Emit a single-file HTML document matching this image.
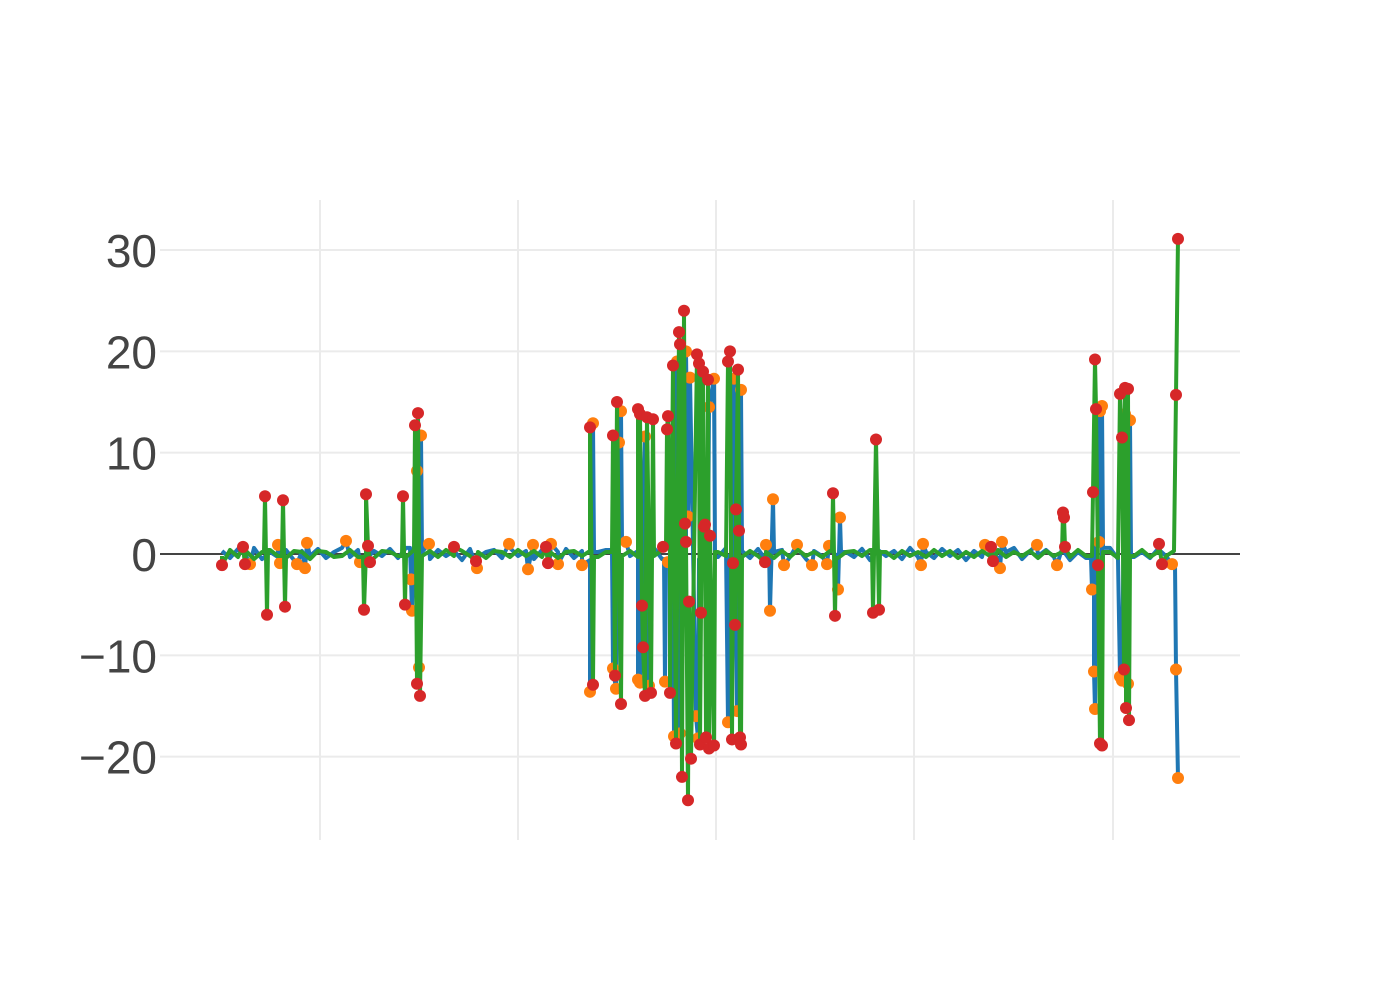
<!DOCTYPE html>
<html><head><meta charset="utf-8"><style>
html,body{margin:0;padding:0;background:#fff;width:1400px;height:1000px;overflow:hidden}
svg text{font-family:"Liberation Sans",sans-serif}
</style></head><body>
<svg id="chart" width="1400" height="1000" xmlns="http://www.w3.org/2000/svg">
<g id="grid"></g>
<g id="yticks"></g>
<g id="series"></g>
</svg>
<script>
const xGridTicks=[160,358,556,754,953];
const yTickVals=[-20,-10,0,10,20,30];
const yTickLabels=["\u221220","\u221210","0","10","20","30"];
// baseline noise (every 8 units starting at 62)
const blueBase=[0.3,-0.4,0.5,-0.2,0.6,-0.5,0.2,-0.3,0.4,-0.6,0.3,-0.2,0.5,-0.4,0.2,0.6,-0.3,0.4,-0.5,0.3,-0.2,0.5,-0.4,0.6,-0.3,0.2,-0.5,0.4,-0.2,0.3,-0.6,0.5,-0.3,0.2,0.4,-0.4,0.6,-0.2,0.3,-0.5,0.4,-0.3,0.2,0.5,-0.4,0.3,-0.6,0.2,0.4,-0.3,0.5,-0.2,0.3,-0.4,0.6,-0.5,0.2,-0.3,0.4,-0.2,
-0.5,0.4,-0.3,0.6,-0.2,0.3,-0.4,0.5,-0.6,0.2,0.4,-0.3,0.5,-0.5,0.3,-0.2,0.6,-0.4,0.2,-0.3,0.5,-0.6,0.4,-0.2,0.3,-0.5,0.6,-0.3,0.2,-0.4,0.5,-0.2,0.4,-0.6,0.3,-0.3,0.5,-0.4,0.2,0.6,-0.5,0.3,-0.2,0.4,-0.3,0.5,-0.6,0.2,-0.4,0.3,-0.2,0.6,-0.5,0.4,-0.3,0.2,-0.4,0.5,-0.2,0.3];
const greenBase=[-0.2,0.4,-0.3,0.3,-0.5,0.2,0.4,-0.2,-0.4,0.3,0.2,-0.5,0.3,0.2,-0.3,-0.2,0.4,-0.3,0.2,-0.4,0.3,0.2,-0.2,-0.3,0.4,-0.2,0.3,-0.3,0.4,-0.2,0.3,-0.2,0.2,-0.4,0.3,0.2,-0.3,0.4,-0.2,0.3,-0.3,0.2,-0.4,0.2,0.3,-0.2,0.3,-0.3,0.2,0.4,-0.2,0.3,-0.3,0.2,-0.2,0.4,-0.3,0.2,-0.2,0.3,
0.3,-0.4,0.2,-0.2,0.4,-0.3,0.3,-0.2,0.2,-0.4,0.3,-0.3,0.4,-0.2,0.2,-0.3,0.3,-0.4,0.2,0.3,-0.2,0.4,-0.3,0.2,-0.4,0.3,-0.2,0.2,-0.3,0.4,-0.2,0.3,-0.4,0.2,-0.3,0.3,-0.2,0.4,-0.3,0.2,-0.2,0.3,-0.4,0.3,-0.2,0.2,-0.3,0.4,-0.2,0.3,-0.3,0.2,-0.4,0.3,-0.2,0.4,-0.3,0.2,-0.2,0.3];
const greenX=[62,83,85,105,107,123,125,204,206,208,210,243,245,255,257,258,260,294,316,386,388,430,433,453,455,457,461,478,480,482,483,485,487,491,493,503,507,508,510,513,516,519,520,522,524,525,526,528,529,531,537,539,540,541,543,544,545,546,548,549,550,554,568,570,572,573,575,576,578,579,580,581,605,673,675,713,716,719,831,833,903,904,905,933,935,936,938,940,942,960,962,964,965,966,968,969,999,1002,1016,1018];
const greenY=[-1.1,0.7,-1,5.7,-6,5.3,-5.2,-5.5,5.9,0.8,-0.8,5.7,-5,12.7,-12.8,13.9,-14,0.7,-0.7,0.7,-0.9,12.5,-12.9,11.7,-12,15,-14.8,14.3,13.8,-5.1,-9.2,-14,13.5,-13.7,13.3,0.7,12.3,13.6,-13.7,18.6,-18.7,21.9,20.7,-22,24,3,1.2,-24.3,-4.7,-20.2,19.7,18.8,-18.8,-5.8,18,2.7,2.9,-18.1,17.2,-19.2,1.8,-18.9,19,20,-18.3,-0.9,-7,4.4,18.2,2.3,-18.1,-18.8,-0.8,6,-6.1,-5.8,11.3,-5.5,0.7,-0.7,4.1,3.6,0.7,6.1,19.2,14.3,-1.1,-18.7,-18.9,15.8,11.5,-11.4,16.4,-15.2,16.3,-16.4,1,-1,15.7,31.1];
const blueX=[90,118,120,137,145,147,186,200,251,252,257,259,261,269,317,349,368,373,391,398,422,430,433,453,456,459,461,466,478,480,485,489,505,508,514,517,520,526,528,530,536,538,549,554,568,574,577,581,606,610,613,624,637,652,667,669,678,680,761,763,825,840,842,877,897,932,934,935,939,940,942,960,962,965,968,970,1012,1016,1018];
const blueY=[-1,0.9,-0.9,-1,-1.4,1.1,1.3,-0.8,-2.5,-5.6,8.2,-11.2,11.7,1,-1.4,1,-1.5,0.9,1,-1,-1.1,-13.6,12.9,-11.3,-13.3,11,14.1,1.2,-12.4,-12.7,11.6,-13,-12.6,-0.8,-18,19,-17.7,20,3.7,17.4,-16,-18.2,14.5,17.3,-16.6,17.3,-15.5,16.2,0.9,-5.6,5.4,-1.1,0.9,-1.1,-1,0.8,-3.5,3.6,-1.1,1,0.9,-1.4,1.2,0.9,-1.1,-3.5,-11.6,-15.3,1.2,14.1,14.6,-12.1,-12.5,13.8,-12.8,13.2,-1,-11.4,-22.1];

const X=v=>160+v*(1240-160)/1080;
const Y=v=>554-v*(554-250)/30;
const NS="http://www.w3.org/2000/svg";
function mk(tag,parent){const e=document.createElementNS(NS,tag);parent.appendChild(e);return e;}
const grid=document.getElementById('grid'),yt=document.getElementById('yticks'),ser=document.getElementById('series');
xGridTicks.forEach(t=>{const l=mk('line',grid);


l.setAttribute('x1',X(t));l.setAttribute('x2',X(t));l.setAttribute('y1',200);l.setAttribute('y2',840);l.setAttribute('stroke','#ebebeb');l.setAttribute('stroke-width',2);});
yTickVals.forEach((v,i)=>{if(v!==0){const l=mk('line',grid);


l.setAttribute('x1',160);l.setAttribute('x2',1240);l.setAttribute('y1',Y(v));l.setAttribute('y2',Y(v));l.setAttribute('stroke','#ebebeb');l.setAttribute('stroke-width',2);}
const t=mk('text',yt);


t.setAttribute('x',157);t.setAttribute('y',Y(v)+17);t.setAttribute('text-anchor','end');t.setAttribute('font-size',46);t.setAttribute('fill','#444');t.textContent=yTickLabels[i];});
function merge(bx,by,base){
  const spikes=bx.map((x,i)=>[x,by[i]]).sort((a,b)=>a[0]-b[0]);
  const lastX=spikes[spikes.length-1][0];
  const pts=[];
  base.forEach((v,i)=>{const x=62+i*8;if(x>lastX)return;
    // skip baseline points that fall inside a tight spike cluster
    let inside=false;for(let k=0;k<spikes.length-1;k++){if(spikes[k][0]<x&&spikes[k+1][0]>x&&spikes[k+1][0]-spikes[k][0]<=6){inside=true;break;}}
    if(!inside)pts.push([x,v]);});
  spikes.forEach(s=>pts.push(s));
  pts.sort((a,b)=>a[0]-b[0]);
  // return to baseline right beside isolated spikes so they are vertical
  const out=[];
  for(let i=0;i<pts.length;i++){
    const p=pts[i];
    if(i>0&&Math.abs(p[1])>1.5&&p[0]-pts[i-1][0]>2&&Math.abs(pts[i-1][1])<1.5)out.push([p[0]-1,pts[i-1][1]]);
    out.push(p);
    if(i<pts.length-1&&Math.abs(p[1])>1.5&&pts[i+1][0]-p[0]>2&&Math.abs(pts[i+1][1])<1.5)out.push([p[0]+1,pts[i+1][1]]);
  }
  return out;}
function line(pts,color,name){const p=mk('polyline',ser);


p.setAttribute('points',pts.map(q=>X(q[0])+','+Y(q[1])).join(' '));p.setAttribute('fill','none');p.setAttribute('stroke',color);p.setAttribute('stroke-width',4);p.setAttribute('stroke-linejoin','round');}
function dots(xs,ys,color,name){xs.forEach((x,i)=>{const c=mk('circle',ser);


c.setAttribute('cx',X(x));c.setAttribute('cy',Y(ys[i]));c.setAttribute('r',6);c.setAttribute('fill',color);});}
const z=mk('line',ser);


z.setAttribute('x1',160);z.setAttribute('x2',1240);z.setAttribute('y1',Y(0));z.setAttribute('y2',Y(0));z.setAttribute('stroke','#444');z.setAttribute('stroke-width',2);
line(merge(blueX,blueY,blueBase),'#1f77b4','blue-series-line');
dots(blueX,blueY,'#ff7f0e','orange-outlier-marker');
line(merge(greenX,greenY,greenBase),'#2ca02c','green-series-line');
dots(greenX,greenY,'#d62728','red-outlier-marker');
</script>
</body></html>
